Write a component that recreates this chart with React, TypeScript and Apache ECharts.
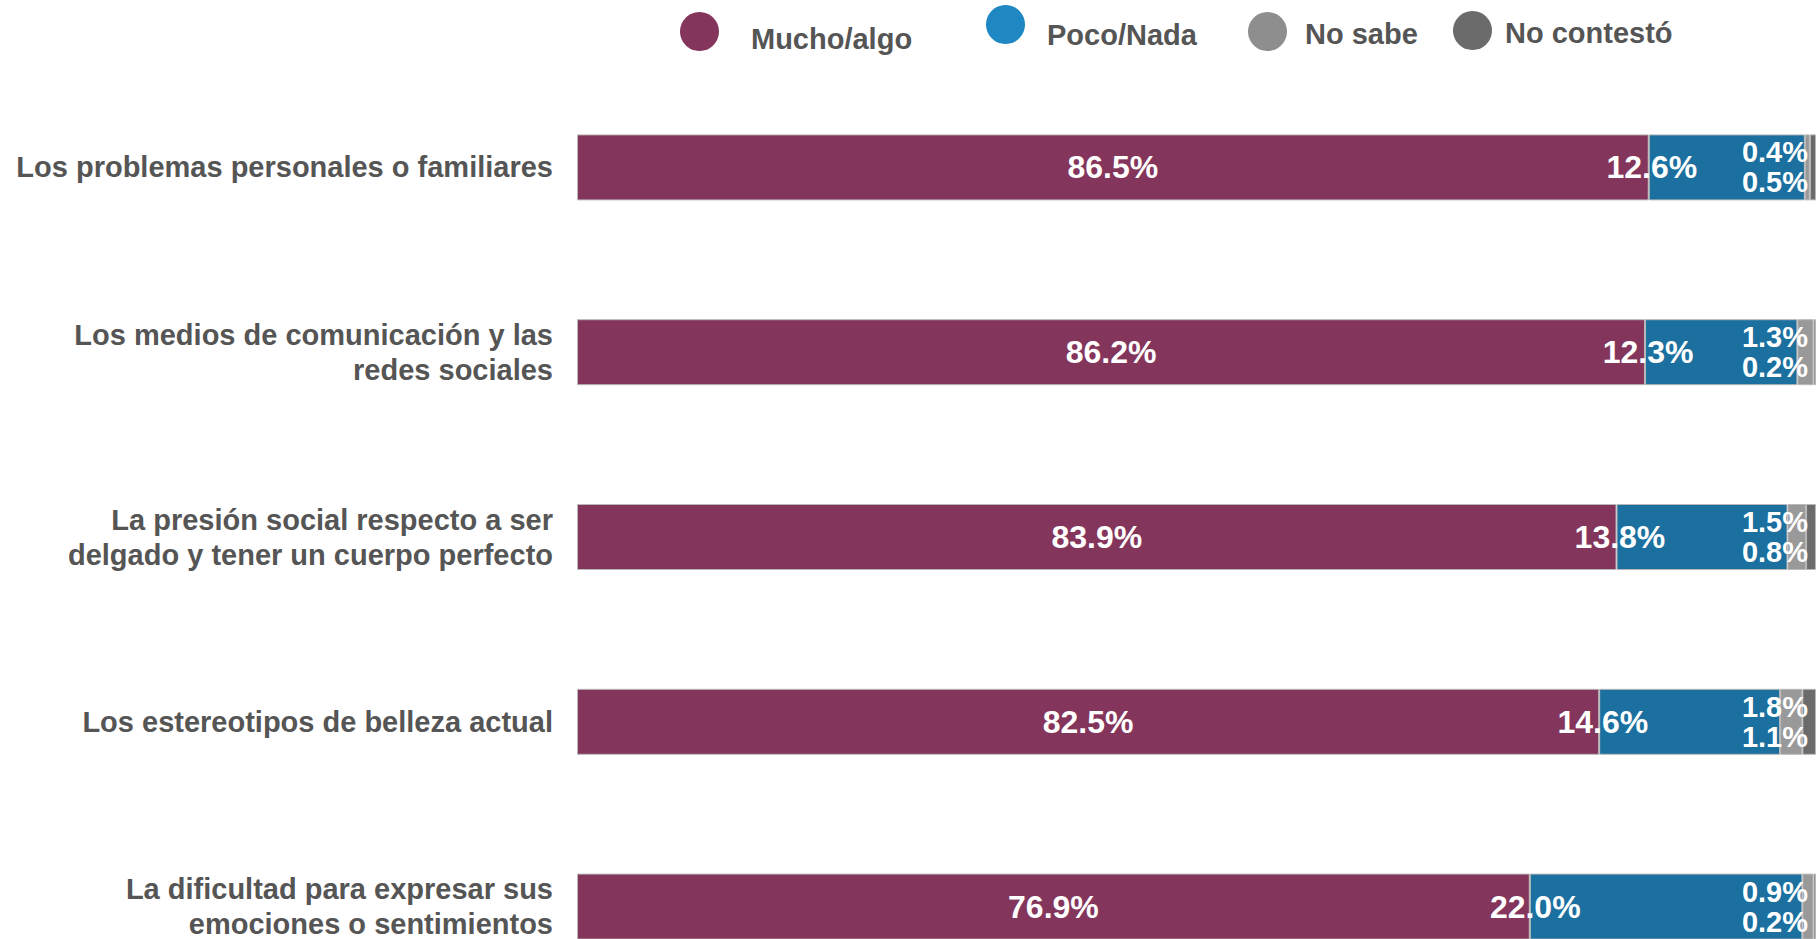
import React, { useEffect, useRef } from "react";
import * as echarts from "echarts";

const categories = [
  "Los problemas personales o familiares",
  "Los medios de comunicación y las\nredes sociales",
  "La presión social respecto a ser\ndelgado y tener un cuerpo perfecto",
  "Los estereotipos de belleza actual",
  "La dificultad para expresar sus\nemociones o sentimientos",
];
const muchoAlgo = [86.5, 86.2, 83.9, 82.5, 76.9];
const pocoNada = [12.6, 12.3, 13.8, 14.6, 22.0];
const noSabe = [0.4, 1.3, 1.5, 1.8, 0.9];
const noContesto = [0.5, 0.2, 0.8, 1.1, 0.2];
const seriesNames = ["Mucho/algo", "Poco/Nada", "No sabe", "No contestó"];

const FONT = "'Liberation Sans', Arial, Helvetica, sans-serif";
const barColors = ["#84355C", "#1B70A0", "#999999", "#6B6B6B"];
const legendColors = ["#84355C", "#1F88C3", "#8E8E8E", "#6B6B6B"];

export default function App() {
  const ref = useRef<HTMLDivElement>(null);
  useEffect(() => {
    if (!ref.current) return;
    const chart = echarts.init(ref.current, undefined, { renderer: "svg" });
    const fmt = (v: number) => v.toFixed(1) + "%";
    const itemStyle = (c: string) => ({ color: c, borderColor: "#b8b8b8", borderWidth: 1 });
    const legendPos = [
      { left: 675, top: 7, pad: [14, 0, 0, 27] },
      { left: 981, top: 0, pad: [21, 0, 0, 17] },
      { left: 1243, top: 7, pad: [5, 0, 0, 13] },
      { left: 1448, top: 6, pad: [5, 0, 0, 8] },
    ];
    chart.setOption({
      animation: false,
      backgroundColor: "#ffffff",
      textStyle: { fontFamily: FONT },
      legend: seriesNames.map((n, i) => ({
        data: [{ name: n, itemStyle: { color: legendColors[i], borderWidth: 0 } }],
        left: legendPos[i].left,
        top: legendPos[i].top,
        icon: "circle",
        itemWidth: 39,
        itemHeight: 39,
        selectedMode: false,
        formatter: (name: string) => "{t|" + name + "}",
        textStyle: {
          fontFamily: FONT,
          fontSize: 29,
          fontWeight: "bold",
          color: "#555555",
          rich: {
            t: {
              fontFamily: FONT,
              fontSize: 29,
              fontWeight: "bold",
              color: "#555555",
              padding: legendPos[i].pad,
            },
          },
        },
      })),
      grid: { left: 577, top: 75, width: 1243, height: 924, containLabel: false },
      xAxis: { type: "value", min: 0, max: 100, show: false },
      yAxis: {
        type: "category",
        data: categories,
        inverse: true,
        axisLine: { show: false },
        axisTick: { show: false },
        splitLine: { show: false },
        axisLabel: {
          margin: 24,
          fontFamily: FONT,
          fontSize: 29,
          fontWeight: "bold",
          color: "#555555",
          lineHeight: 35,
          align: "right",
        },
      },
      series: [
        {
          name: seriesNames[0],
          type: "bar",
          stack: "total",
          barWidth: 66,
          data: muchoAlgo,
          itemStyle: itemStyle(barColors[0]),
          label: {
            show: true,
            position: "inside",
            formatter: (p: any) => fmt(p.value),
            color: "#ffffff",
            fontFamily: FONT,
            fontSize: 32,
            fontWeight: "bold",
          },
        },
        {
          name: seriesNames[1],
          type: "bar",
          stack: "total",
          barWidth: 66,
          data: pocoNada,
          itemStyle: itemStyle(barColors[1]),
          label: {
            show: true,
            position: ["2%", "50%"],
            align: "center",
            verticalAlign: "middle",
            formatter: (p: any) => fmt(p.value),
            color: "#ffffff",
            fontFamily: FONT,
            fontSize: 32,
            fontWeight: "bold",
          },
        },
        {
          name: seriesNames[2],
          type: "bar",
          stack: "total",
          barWidth: 66,
          data: noSabe,
          itemStyle: itemStyle(barColors[2]),
          label: { show: false },
        },
        {
          name: seriesNames[3],
          type: "bar",
          stack: "total",
          barWidth: 66,
          data: noContesto,
          itemStyle: itemStyle(barColors[3]),
          label: {
            show: true,
            position: "insideRight",
            distance: 8,
            align: "right",
            verticalAlign: "middle",
            offset: [0, 0],
            formatter: (p: any) => fmt(noSabe[p.dataIndex]) + "\n" + fmt(p.value),
            color: "#ffffff",
            fontFamily: FONT,
            fontSize: 29,
            fontWeight: "bold",
            lineHeight: 30,
          },
        },
      ],
    });
    return () => chart.dispose();
  }, []);
  return (
    <div
      style={{
        position: "absolute",
        left: 0,
        top: 0,
        width: 1816,
        height: 939,
        overflow: "hidden",
        background: "#ffffff",
      }}
    >
      <div ref={ref} style={{ width: 1816, height: 1000 }} />
    </div>
  );
}
